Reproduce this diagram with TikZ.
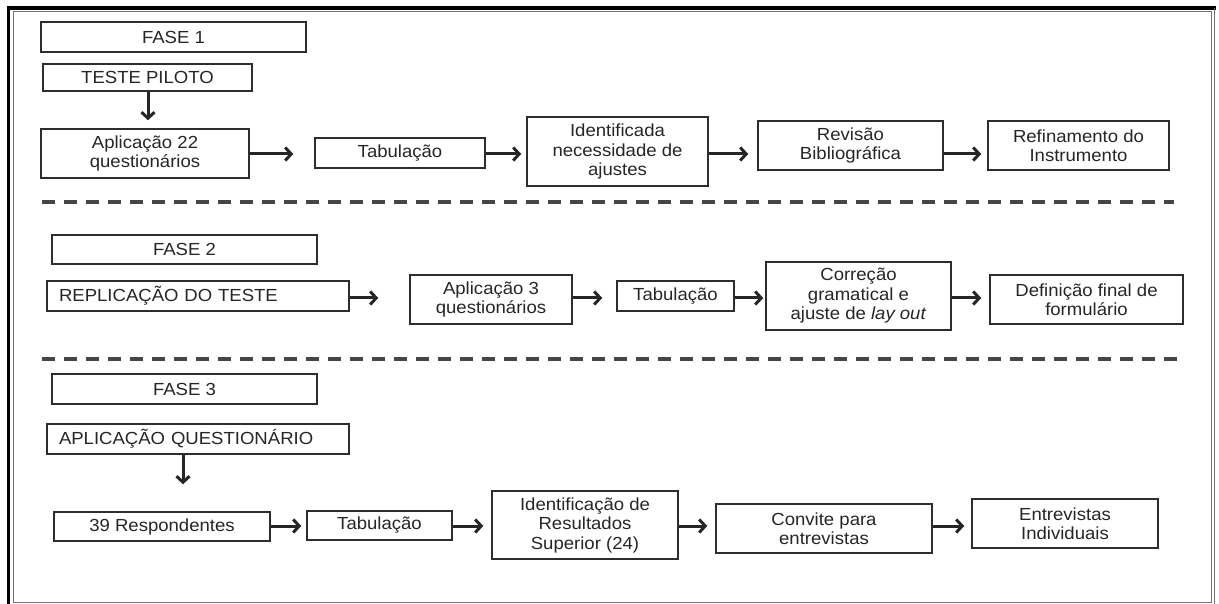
\documentclass[tikz,border=0pt]{standalone}
\usepackage{fontspec}
\setmainfont{Liberation Sans}[FakeStretch=1.06]
\usetikzlibrary{arrows.meta}
\definecolor{BoxGray}{RGB}{45, 45, 45}
\definecolor{DashGray}{RGB}{70, 70, 70}
\definecolor{FrameGray}{RGB}{115, 115, 115}

\begin{document}
\begin{tikzpicture}[x=1pt, y=-1pt,
    box/.style={draw=BoxGray, line width=1.5pt, fill=white, text=black!85, align=center,
                inner sep=0pt, font=\fontsize{17.5}{19.5}\selectfont},
    leftbox/.style={box, align=left, inner xsep=12pt, text width=278pt},
    flow/.style={draw=black!85, line width=3pt, -{Straight Barb[length=6pt, width=13pt]}},
    sep/.style={draw=DashGray, line width=3.5pt, dash pattern=on 13pt off 9pt}]
        \useasboundingbox (0,0) rectangle (1219,604);
        % frame
        \draw[black, line width=3.5] (8.5,604) -- (8.5,8) -- (1216,8);
        \draw[FrameGray, line width=1] (13,12) rectangle (1211,602);
        \draw[FrameGray, line width=0.8] (1214.5,8) -- (1214.5,604);
        \draw[sep] (42,202) -- (1174,202);
        \draw[sep] (42,359) -- (1178,359);
        % row levels
        \coordinate (r1) at (0,154);
        \coordinate (r2) at (0,298);
        \coordinate (r3) at (0,526);
        % fase 1
        \node[box, minimum width=265, minimum height=30] (f1)   at (173.5,37)   {FASE 1};
        \node[box, minimum width=209, minimum height=27] (tp)   at (147.5,77.5) {TESTE PILOTO};
        \node[box, minimum width=208, minimum height=49] (ap22) at (145,153.5)  {Aplicação 22\\questionários};
        \node[box, minimum width=170, minimum height=30] (tab1) at (400,153)    {Tabulação};
        \node[box, minimum width=181, minimum height=69] (idf)  at (617.5,151.5) {Identificada\\necessidade de\\ajustes};
        \node[box, minimum width=185, minimum height=49] (rev)  at (850.5,145.5) {Revisão\\Bibliográfica};
        \node[box, minimum width=181, minimum height=49] (ref)  at (1078.5,145.5) {Refinamento do\\Instrumento};
        % fase 2
        \node[box, minimum width=265, minimum height=29] (f2)   at (184.5,249.5) {FASE 2};
        \node[leftbox, minimum height=30] (rep)  at (198,296)    {REPLICAÇÃO DO TESTE};
        \node[box, minimum width=162, minimum height=49] (ap3)  at (491,299.5)  {Aplicação 3\\questionários};
        \node[box, minimum width=117, minimum height=30] (tab2) at (675.5,296)  {Tabulação};
        \node[box, minimum width=185, minimum height=68] (cor)  at (858.5,296)  {Correção\\gramatical e\\ajuste de \textit{lay out}};
        \node[box, minimum width=193, minimum height=49] (def)  at (1086.5,299.5) {Definição final de\\formulário};
        % fase 3
        \node[box, minimum width=265, minimum height=30] (f3)   at (184.5,389)  {FASE 3};
        \node[leftbox, minimum height=30] (aq)   at (198,439)    {APLICAÇÃO QUESTIONÁRIO};
        \node[box, minimum width=216, minimum height=29] (r39)  at (162,526.5)  {39 Respondentes};
        \node[box, minimum width=145, minimum height=29] (tab3) at (379.5,525.5) {Tabulação};
        \node[box, minimum width=186, minimum height=68] (idr)  at (585,525)    {Identificação de\\Resultados\\Superior (24)};
        \node[box, minimum width=216, minimum height=49] (conv) at (824,528.5)  {Convite para\\entrevistas};
        \node[box, minimum width=186, minimum height=49] (ent)  at (1065,523.5) {Entrevistas\\Individuais};
        % arrows
        \draw[flow, shorten >=8pt] ([xshift=0.5pt]tp.south) -- ([xshift=0.5pt]tp.south |- ap22.north);
        \draw[flow, shorten >=27pt] ([xshift=-15pt]aq.south) -- ([xshift=-15pt]aq.south |- r39.north);
        \foreach \a/\b/\r/\g in {ap22/tab1/r1/21, tab1/idf/r1/5, idf/rev/r1/9, rev/ref/r1/6,
                                 rep/ap3/r2/31, ap3/tab2/r2/14, tab2/cor/r2/2, cor/def/r2/8,
                                 r39/tab3/r3/5, tab3/idr/r3/8, idr/conv/r3/8, conv/ent/r3/7} {
            \draw[flow, shorten >=\g pt] (\a.east |- \r) -- (\b.west |- \r);
        }
    \end{tikzpicture}
\end{document}
